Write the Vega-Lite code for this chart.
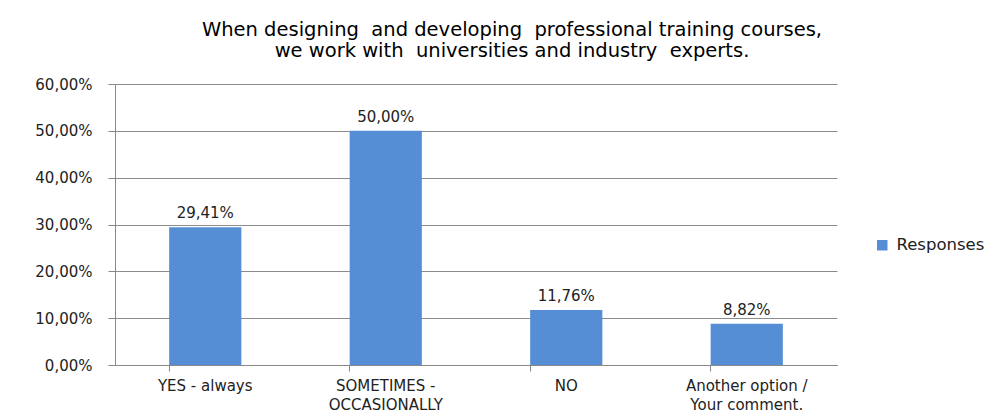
{
  "$schema": "https://vega.github.io/schema/vega-lite/v6.json",
  "autosize": {"type": "none"},
  "width": 722,
  "height": 281,
  "padding": {"left": 115, "top": 84, "right": 166, "bottom": 53},
  "background": "white",
  "config": {
    "locale": {"number": {"decimal": ",", "thousands": ".", "grouping": [3], "currency": ["", " €"]}},
    "view": {"stroke": null},
    "font": "DejaVu Sans"
  },
  "title": {
    "text": ["When designing\u00a0 and developing\u00a0 professional training courses,", "we work with\u00a0 universities and industry\u00a0 experts."],
    "font": "DejaVu Sans",
    "fontSize": 19.5,
    "fontWeight": "normal",
    "color": "#000000",
    "anchor": "middle",
    "frame": "group",
    "dx": 36,
    "offset": 16,
    "lineHeight": 21
  },
  "data": {
    "values": [
      {"answer": "YES - always", "share": 0.2941, "series": "Responses"},
      {"answer": "SOMETIMES - OCCASIONALLY", "share": 0.5, "series": "Responses"},
      {"answer": "NO", "share": 0.1176, "series": "Responses"},
      {"answer": "Another option / Your comment.", "share": 0.0882, "series": "Responses"}
    ]
  },
  "encoding": {
    "x": {
      "field": "answer",
      "type": "nominal",
      "sort": null,
      "title": null,
      "scale": {"paddingInner": 0.6, "paddingOuter": 0.3},
      "axis": {
        "labelAngle": 0,
        "labelFontSize": 15,
        "labelColor": "#222222",
        "labelFont": "DejaVu Sans",
        "labelPadding": 7,
        "labelLineHeight": 19,
        "bandPosition": 0,
        "tickSize": 6,
        "tickColor": "#888888",
        "domainColor": "#888888",
        "labelExpr": "datum.value == 'SOMETIMES - OCCASIONALLY' ? ['SOMETIMES -', 'OCCASIONALLY'] : datum.value == 'Another option / Your comment.' ? ['Another option /', 'Your comment.'] : datum.value"
      }
    },
    "y": {
      "field": "share",
      "type": "quantitative",
      "title": null,
      "scale": {"domain": [0, 0.6]},
      "axis": {
        "format": ".2%",
        "values": [0, 0.1, 0.2, 0.3, 0.4, 0.5, 0.6],
        "labelFontSize": 15,
        "labelColor": "#222222",
        "labelFont": "DejaVu Sans",
        "labelPadding": 16,
        "tickSize": 7,
        "tickColor": "#888888",
        "domainColor": "#888888",
        "gridColor": "#8c8c8c",
        "grid": true
      }
    }
  },
  "layer": [
    {
      "mark": {"type": "bar", "color": "#558ED5"},
      "encoding": {
        "color": {
          "field": "series",
          "type": "nominal",
          "scale": {"range": ["#558ED5"]},
          "legend": {
            "title": null,
            "orient": "none",
            "legendX": 759,
            "legendY": 153,
            "symbolType": "square",
            "symbolSize": 110,
            "symbolStrokeWidth": 0,
            "labelFontSize": 16.5,
            "labelFont": "DejaVu Sans",
            "labelColor": "#222222",
            "labelOffset": 6
          }
        }
      }
    },
    {
      "mark": {"type": "text", "dy": -14, "fontSize": 15, "color": "#222222", "font": "DejaVu Sans"},
      "encoding": {
        "text": {"field": "share", "type": "quantitative", "format": ".2%"}
      }
    }
  ]
}
